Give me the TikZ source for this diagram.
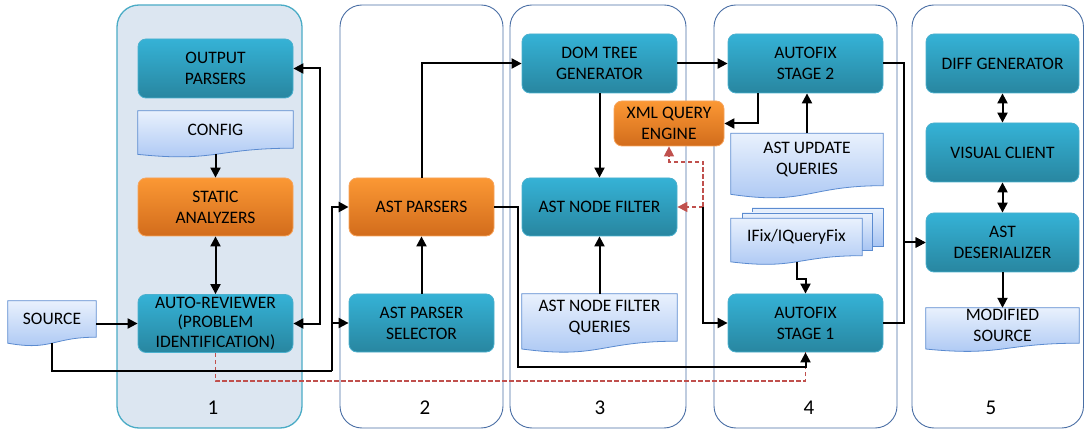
\documentclass[tikz,border=0pt]{standalone}
\usepackage{fontspec}
\setmainfont{Carlito}
\usetikzlibrary{arrows.meta,calc}
\pgfdeclarelayer{bg}
\pgfsetlayers{bg,main}

\definecolor{tealtop}{HTML}{35B2D6}
\definecolor{tealbot}{HTML}{2886A0}
\definecolor{tealedge}{HTML}{4BB0CE}
\definecolor{orgtop}{HTML}{FB9834}
\definecolor{orgbot}{HTML}{D26C1C}
\definecolor{orgedge}{HTML}{F7A35A}
\definecolor{doctop}{HTML}{E9F1FD}
\definecolor{docbot}{HTML}{A8C5F3}
\definecolor{docedge}{HTML}{5B8BD0}
\definecolor{lanefill}{HTML}{DCE6F1}
\definecolor{laneone}{HTML}{4BACC6}
\definecolor{laneedge}{HTML}{4A6FA5}
\definecolor{flowred}{HTML}{C0504D}

\tikzset{
  x=1pt, y=-1pt,
  every node/.style={font=\fontsize{17.5}{21}\selectfont, align=center, inner sep=0pt, text=black},
  lane/.style={rounded corners=22pt, draw=laneedge, line width=0.9pt, fill=white},
  procbox/.style={rounded corners=8pt, draw=tealedge, line width=0.8pt,
    top color=tealtop, bottom color=tealbot, minimum width=155pt, minimum height=58pt},
  hotbox/.style={rounded corners=8pt, draw=orgedge, line width=0.8pt,
    top color=orgtop, bottom color=orgbot, minimum width=155pt, minimum height=58pt},
  docbox/.style={minimum width=155pt},
  docfill/.style={draw=docedge, line width=0.8pt, top color=doctop, bottom color=docbot},
  tip/.tip={Triangle[length=10pt,width=10pt]},
  flow/.style={line width=2pt, -tip},
  flowboth/.style={line width=2pt, tip-tip},
  heavy/.style={line width=2.6pt},
  redflow/.style={draw=flowred, line width=1.5pt, dash pattern=on 4.5pt off 2.5pt},
  lanenum/.style={font=\fontsize{21}{24}\selectfont},
}

% document shape: flat top, wavy bottom below the node's rectangle
\newcommand\docshape[1]{%
  \begin{pgfonlayer}{bg}
  \path[docfill] let \p1=(#1.north west), \p2=(#1.south east), \n1={\y1-\y2} in
    (\p1) -- (\x2,\y1) -- (\p2)
    .. controls (\x1/2+\x2/2,\y2) and (\x1/2+\x2/2,\y2-0.381*\n1) ..
    (\x1,\y2-0.1646*\n1) -- cycle;
  \end{pgfonlayer}}

\begin{document}
\begin{tikzpicture}
\useasboundingbox (0,0) rectangle (1084,430);

% swim lanes
\begin{pgfonlayer}{bg}
\fill[white] (0,0) rectangle (1084,430);
\draw[lane, fill=lanefill, draw=laneone, line width=1.3pt] (117,5) rectangle (302,428);
\draw[lane] (340,5) rectangle (503,428);
\draw[lane] (510,5) rectangle (686,428);
\draw[lane] (714,5) rectangle (897,428);
\draw[lane] (912,5) rectangle (1083.5,428);
\end{pgfonlayer}
\node[lanenum] (n1) at (213,408) {1};
\node[lanenum] (n2) at (425,408) {2};
\node[lanenum] (n3) at (600,408) {3};
\node[lanenum] (n4) at (809,408) {4};
\node[lanenum] (n5) at (991,408) {5};

% lane 1
\node[procbox, minimum height=59pt] (out) at (215.5,68.5) {OUTPUT\\PARSERS};
\node[docbox, minimum height=37pt] (config) at (215.5,129.5) {CONFIG};
\node[hotbox] (static) at (215.5,207) {STATIC\\ANALYZERS};
\node[procbox, font=\fontsize{17.5}{19.5}\selectfont] (review) at (215.5,323.5) {AUTO-REVIEWER\\(PROBLEM\\IDENTIFICATION)};
\node[docbox, minimum width=88pt, minimum height=36pt] (source) at (52,319) {SOURCE};

% lane 2
\node[hotbox, minimum width=145pt] (parsers) at (421.5,207) {AST PARSERS};
\node[procbox, minimum width=145pt] (selector) at (421.5,323) {AST PARSER\\SELECTOR};

% lane 3
\node[procbox, minimum height=59pt] (dom) at (599.5,63.5) {DOM TREE\\GENERATOR};
\node[hotbox, minimum width=110pt, minimum height=45pt] (xml) at (669,123.5) {XML QUERY\\ENGINE};
\node[procbox] (filter) at (599.5,207) {AST NODE FILTER};
\node[docbox, minimum height=47pt] (fq) at (599.5,317.5) {AST NODE FILTER\\QUERIES};

% lane 4
\node[procbox, minimum height=59pt] (st2) at (805.5,63.5) {AUTOFIX\\STAGE 2};
\node[docbox, minimum width=152pt, minimum height=52pt] (uq) at (807,159.5) {AST UPDATE\\QUERIES};
\begin{pgfonlayer}{bg}
\path[docfill] (752,208) rectangle (883,246);
\path[docfill] (742,213) rectangle (872,250);
\end{pgfonlayer}
\node[docbox, minimum width=131pt, minimum height=37pt] (ifix) at (796.5,237) {IFix/IQueryFix};
\node[procbox] (st1) at (805.5,323) {AUTOFIX\\STAGE 1};

% lane 5
\node[procbox, minimum width=153pt, minimum height=59pt] (diff) at (1002.5,63.5) {DIFF GENERATOR};
\node[procbox, minimum width=153pt, minimum height=59pt] (vis) at (1002.5,152.5) {VISUAL CLIENT};
\node[procbox, minimum width=153pt, minimum height=59pt] (deser) at (1002.5,242.5) {AST\\DESERIALIZER};
\node[docbox, minimum width=153pt, minimum height=35pt] (mod) at (1002.5,325.5) {MODIFIED\\SOURCE};

\docshape{config}
\docshape{source}
\docshape{fq}
\docshape{uq}
\docshape{ifix}
\docshape{mod}

% junction and bus points
\coordinate (srcbus) at (332,371);
\coordinate (pbus) at (518,367);
\coordinate (rbus) at (215.5,381);
\coordinate (jn) at (703,207);
\coordinate (jx) at (703,162);

% problem-identification link (dashed)
\draw[redflow] (review.south) -- (rbus) -| (st1.south);

% lane 1 links
\draw[flow] ($(config.south)+(0,6)$) -- (static.north);
\draw[flowboth] (static.south) -- (review.north);
\draw[flow] (source.east |- review.west) -- (review.west);
\draw[flowboth] (out.east) -- ++(27,0) |- (review.east);

% source to the parsers
\draw[heavy] ($(source.south)+(0,6)$) |- (srcbus);
\draw[heavy, -tip] (srcbus) |- (parsers.west);
\draw[flow] (srcbus |- selector.west) -- (selector.west);

% lane 2 links
\draw[flow] (selector.north) -- (parsers.south);
\draw[flow] (parsers.north) |- (dom.west);
\draw[flow] (parsers.east) -| (pbus) -| (st1.south);

% lane 3 links
\draw[flow] (dom.south) -- (filter.north);
\draw[flow] (fq.north) -- (filter.south);
\draw[flow] (dom.east) -- (st2.west);
\draw[redflow, -tip] (jn) -- (filter.east);
\draw[redflow, -tip] (jn) -- (jx) -| (xml.south);
\draw[flow] (jn) |- (st1.west);

% lane 4 links
\draw[flow] ($(st2.south west)+(30,0)$) |- (xml.east);
\draw[flow] (uq.north) -- (uq.north |- st2.south);
\draw[flow] ($(ifix.south)+(0,6)$) -- ++(0,17) -| (st1.north);
\draw[flow] (st2.east) -- ++(21,0) |- (deser.west);
\draw[flow] (st1.east) -- ++(21,0) |- (deser.west);

% lane 5 links
\draw[flowboth] (diff.south) -- (vis.north);
\draw[flowboth] (vis.south) -- (deser.north);
\draw[flow] (deser.south) -- (mod.north);
\end{tikzpicture}
\end{document}
